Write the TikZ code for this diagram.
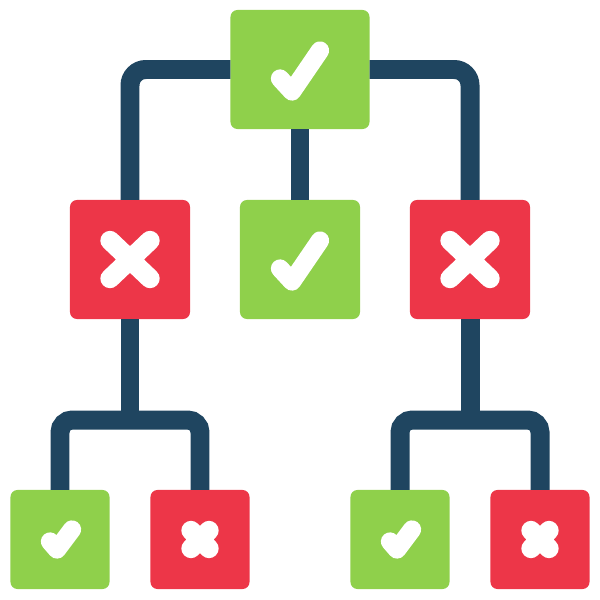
\documentclass[tikz,border=0pt]{standalone}
\definecolor{G}{RGB}{143,208,75}
\definecolor{R}{RGB}{237,54,72}
\definecolor{N}{RGB}{31,69,96}
\usetikzlibrary{positioning}
\tikzstyle{base}=[x=0.01cm, y=-0.01cm, inner sep=0pt, outer sep=0pt]
\tikzstyle{box}=[rounded corners=2pt, minimum width=1.2cm, minimum height=1.19cm]
\tikzstyle{small}=[minimum width=0.99cm, minimum height=0.99cm]
\tikzstyle{pass}=[box, fill=G]
\tikzstyle{fail}=[box, fill=R]
\tikzstyle{link}=[N, line width=5.4pt, rounded corners=4.5pt]
\tikzstyle{sign}=[white, line width=5.2pt, line cap=round, line join=round]
\newcommand*{\bigtick}[1]{\draw [sign] ([shift={(-20,9)}]#1.center) -- ++(12,13) -- ++(28,-41);}
\newcommand*{\bigcross}[1]{\draw [sign, line width=5.5pt] ([shift={(-20,-19)}]#1.center) -- ++(40,38) ([shift={(20,-19)}]#1.center) -- ++(-40,38);}
\newcommand*{\smalltick}[1]{\draw [sign] ([shift={(-10,2)}]#1.center) -- ++(7,8) -- ++(15,-20);}
\newcommand*{\smallcross}[1]{\draw [sign, line width=5.5pt] ([shift={(-9,-9)}]#1.center) -- ++(18,18) ([shift={(9,-9)}]#1.center) -- ++(-18,18);}

\begin{document}
\begin{tikzpicture}[base]
    \path [use as bounding box] (0,0) rectangle (600,600);
        \node [pass, minimum width=1.39cm] (top) at (300,69.5) {};
        \node [fail] (rL) at (130,259.5) {};
        \node [pass] (gM) at (300,259.5) {};
        \node [fail] (rR) at (470,259.5) {};
        \node [pass, small] (gLL) at (60,539.5) {};
        \node [fail, small] (rLR) at (200,539.5) {};
        \node [pass, small] (gRL) at (400,539.5) {};
        \node [fail, small] (rRR) at (540,539.5) {};
        \coordinate (jL) at (130,420);
        \coordinate (jR) at (470,420);
        \draw [link] (top.west) -| (rL.north);
        \draw [link] (top.east) -| (rR.north);
        \draw [link] (top.south) -- (gM.north);
        \draw [link] (rL.south) -- (jL);
        \draw [link] (rR.south) -- (jR);
        \draw [link, rounded corners=3.5pt] (gLL.north) |- (jL) -| (rLR.north);
        \draw [link, rounded corners=3.5pt] (gRL.north) |- (jR) -| (rRR.north);
        \bigtick{top}
        \bigtick{gM}
        \bigcross{rL}
        \bigcross{rR}
        \smalltick{gLL}
        \smalltick{gRL}
        \smallcross{rLR}
        \smallcross{rRR}
    \end{tikzpicture}
\end{document}
